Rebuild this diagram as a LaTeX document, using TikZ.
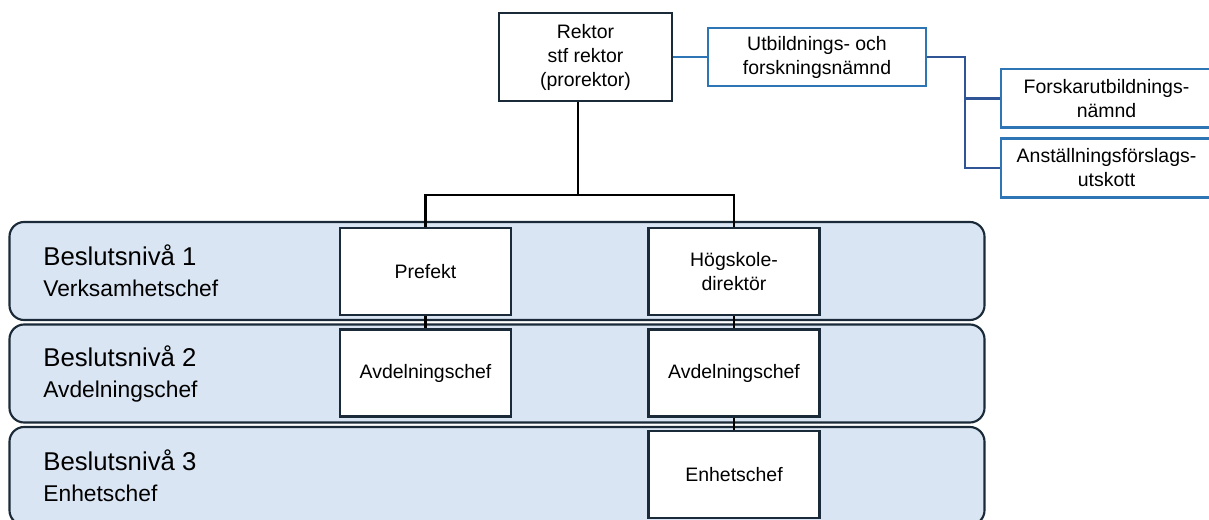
\documentclass[tikz,border=0pt]{standalone}
\usepackage{fontspec}
\setmainfont{Liberation Sans}
\usetikzlibrary{positioning}
\definecolor{bandfill}{HTML}{DAE5F3}
\definecolor{bandline}{HTML}{1B2A38}
\definecolor{nmndblue}{HTML}{2E75B6}
\definecolor{nmndline}{HTML}{2F5597}
\tikzset{
  band/.style={draw=bandline, line width=1.6pt, fill=bandfill, rounded corners=11pt,
    minimum width=731.25pt, minimum height=73.5pt, inner sep=0pt},
  lvltext/.style={inner sep=0pt, align=left, anchor=west, font=\fontsize{17.1}{23.25}\selectfont},
  chef/.style={draw=bandline, line width=2pt, fill=white, align=center, inner sep=0pt,
    minimum width=128.25pt, minimum height=65.25pt, font=\fontsize{14.6}{18}\selectfont},
  nmnd/.style={draw=nmndblue, line width=2pt, fill=white, align=center, inner sep=0pt,
    minimum width=158.25pt, minimum height=44pt, font=\fontsize{14.6}{18}\selectfont},
  conn/.style={line width=1.6pt, black},
  nmndconn/.style={line width=1.6pt, nmndline},
}
\newcommand{\lvlhead}[1]{{\fontsize{19.3}{23.25}\selectfont #1}}
\begin{document}
\begin{tikzpicture}[x=0.75pt, y=-0.75pt]
  \useasboundingbox (0,0) rectangle (1209,520);
  % beslutsnivåer
  \node[band] (lvl1) at (497,271) {};
  \node[band] (lvl2) at (497,373.5) {};
  \node[band] (lvl3) at (497,476) {};
  \node[lvltext, right=26pt of lvl1.west] (lbl1) {\lvlhead{Beslutsnivå 1}\\Verksamhetschef};
  \node[lvltext, right=26pt of lvl2.west] (lbl2) {\lvlhead{Beslutsnivå 2}\\Avdelningschef};
  \node[lvltext, right=26pt of lvl3.west] (lbl3) {\lvlhead{Beslutsnivå 3}\\Enhetschef};

  \node[chef, minimum width=129.75pt, minimum height=66pt] (rektor) at (585.5,57)
    {Rektor\\stf rektor\\(prorektor)};
  \node[nmnd, minimum width=163.5pt, minimum height=43.5pt] (utb) at (817,57)
    {Utbildnings- och\\forskningsnämnd};
  \node[nmnd] (forskar) at (1106.5,98.5) {Forskarutbildnings-\\nämnd};
  \node[nmnd] (anst) at (1106.5,168) {Anställningsförslags-\\utskott};

  \node[chef] (prefekt) at (425.5,271.5) {Prefekt};
  \node[chef] (hogskole) at (734,271.5) {Högskole-\\direktör};
  \node[chef] (avd1) at (425.5,373) {Avdelningschef};
  \node[chef] (avd2) at (734,373) {Avdelningschef};
  \node[chef] (enhet) at (734,474.5) {Enhetschef};

  \coordinate (split) at (578,195);
  \draw[conn] (split |- rektor.south) -- (split);
  \draw[conn] (prefekt.north) |- (split) -| (hogskole.north);
  \draw[conn] (prefekt.south) -- (avd1.north);
  \draw[conn] (hogskole.south) -- (avd2.north);
  \draw[conn] (avd2.south) -- (enhet.north);

  \draw[nmndconn, nmndblue] (rektor.east) -- (utb.west);
  \draw[nmndconn] (utb.east) -- ++(28.5pt,0) coordinate (fork) |- (forskar.west);
  \draw[nmndconn] (fork) |- (anst.west);
\end{tikzpicture}
\end{document}
